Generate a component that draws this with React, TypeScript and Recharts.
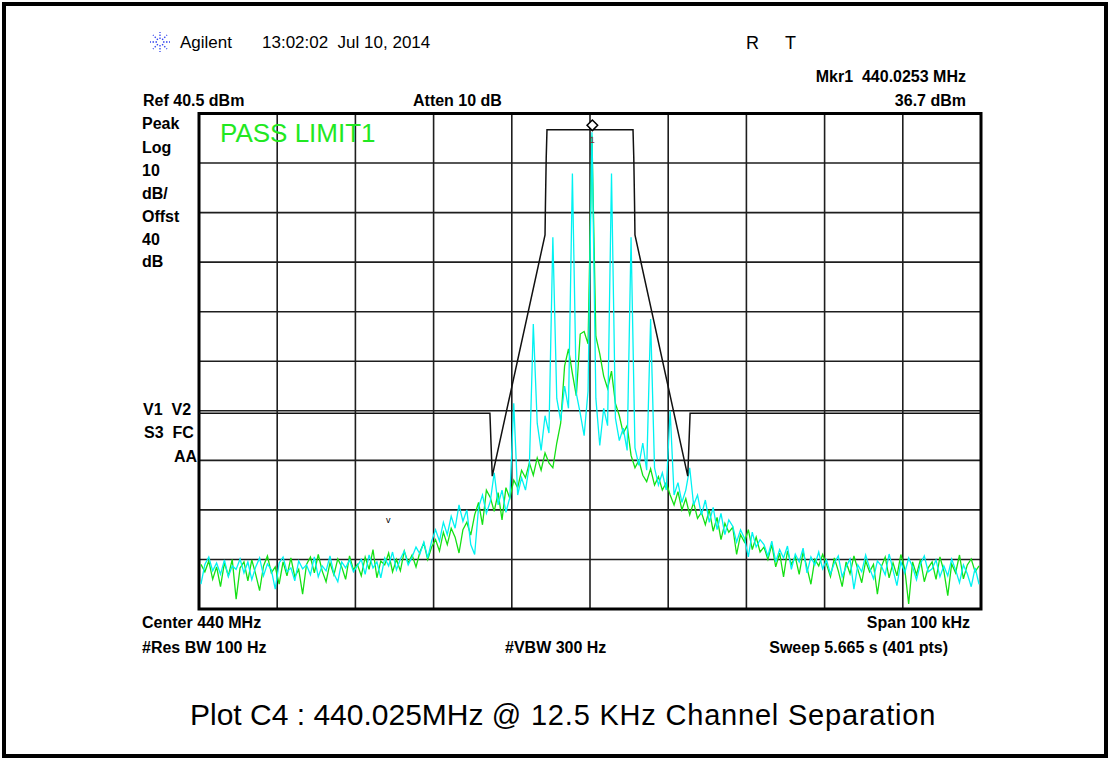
import { LineChart, Line, XAxis, YAxis, ReferenceLine, ReferenceArea, ReferenceDot } from "recharts";

// sweep: 200 points, 0.5 kHz apart, offsets from centre in kHz
const FREQ_KHZ = Array.from({ length: 200 }, (_, i) => -49.75 + i * 0.5);

// trace A (green), dBm
const GREEN_DBM = [
  -50.5, -52.0, -49.8, -53.5, -51.0, -55.0, -50.2, -52.8, -49.5, -57.5,
  -51.2, -50.0, -53.8, -49.6, -52.5, -55.8, -50.8, -48.8, -52.2, -51.0,
  -54.5, -50.0, -52.8, -49.2, -53.0, -51.5, -56.5, -50.5, -49.0, -52.2,
  -48.5, -51.8, -54.0, -50.2, -52.6, -49.4, -51.0, -53.5, -48.8, -51.6,
  -50.5, -52.8, -49.0, -51.5, -47.5, -53.2, -49.8, -50.6, -48.2, -52.0,
  -49.5, -51.8, -47.8, -50.2, -48.6, -51.0, -48.0, -46.2, -49.5, -47.0,
  -45.5, -47.8, -44.0, -46.5, -43.2, -45.0, -48.2, -43.5, -42.0, -44.6,
  -40.5, -38.0, -42.5, -35.5, -37.0, -39.8, -36.0, -41.5, -35.0, -37.2,
  -33.5, -35.0, -31.5, -33.0, -30.0, -32.5, -29.0, -31.5, -28.0, -30.0,
  -31.0, -26.0, -22.0, -10.5, -7.0, -12.0, -16.5, -4.0, -3.5, -6.0,
  36.0, -4.5, -8.0, -12.5, -15.0, -11.5, -18.0, -20.5, -24.0, -22.5,
  -28.5, -31.0, -29.5, -32.5, -33.8, -31.2, -34.5, -32.8, -35.5, -34.0,
  -36.5, -38.5, -35.8, -39.5, -37.2, -40.5, -38.0, -41.2, -40.0, -42.5,
  -39.5, -43.8, -41.0, -45.5, -42.2, -44.0, -43.0, -48.5, -44.5, -46.0,
  -43.5, -47.5, -45.0, -48.0, -47.0, -49.5, -46.5, -51.0, -48.2, -53.0,
  -47.8, -50.5, -49.0, -52.5, -48.0, -51.2, -54.5, -49.5, -50.8, -48.5,
  -50.5, -53.0, -49.2, -51.8, -55.0, -50.0, -52.4, -48.8, -51.5, -54.2,
  -49.8, -52.0, -50.5, -56.5, -51.0, -49.0, -53.2, -50.2, -52.8, -48.5,
  -51.4, -58.5, -50.0, -52.6, -49.5, -54.0, -51.2, -50.0, -53.5, -49.0,
  -51.8, -56.8, -50.4, -52.2, -48.6, -53.4, -50.6, -49.4, -52.0, -50.8,
];

// trace B (cyan), dBm
const CYAN_DBM = [
  -54.5, -50.5, -49.0, -51.8, -50.2, -52.5, -49.6, -53.0, -50.8, -51.5,
  -49.4, -52.2, -50.0, -53.6, -51.0, -49.2, -52.8, -50.4, -51.6, -55.5,
  -50.2, -49.0, -52.0, -51.2, -53.8, -49.8, -51.4, -50.6, -52.6, -49.0,
  -53.0, -50.8, -51.8, -48.8, -52.4, -54.0, -50.0, -51.2, -49.6, -52.0,
  -50.8, -49.5, -52.5, -48.6, -51.2, -50.0, -53.2, -49.2, -50.8, -48.0,
  -51.6, -49.4, -47.8, -50.6, -49.0, -47.0, -48.4, -46.0, -49.2, -45.8,
  -43.5, -45.8, -42.0, -44.5, -40.8, -43.2, -38.5, -41.8, -39.5, -46.5,
  -48.5, -39.0, -36.5, -40.2, -37.8, -32.0, -38.5, -35.5, -40.0, -37.0,
  -18.0, -36.5, -33.0, -35.5, -30.5, -2.0, -22.0, -27.5, -20.5, -24.0,
  15.5, -17.0, -21.5, -14.5, -19.0, 28.4, -16.0, -20.0, -24.5, -15.5,
  36.7, -17.0, -26.5, -19.0, -22.5, 28.4, -21.0, -25.5, -23.0, -27.5,
  15.5, -27.0, -30.5, -26.0, -31.5, -1.0, -31.0, -34.5, -32.0, -35.5,
  -19.5, -36.5, -34.0, -38.0, -35.5, -31.0, -38.5, -36.5, -40.5, -37.5,
  -42.0, -39.0, -43.5, -40.2, -44.5, -41.5, -42.8, -46.0, -43.5, -45.2,
  -49.0, -44.0, -47.0, -45.5, -46.5, -48.8, -45.8, -50.0, -47.5, -49.2,
  -46.8, -51.5, -48.4, -50.0, -47.2, -52.2, -49.0, -50.6, -48.0, -51.4,
  -49.6, -52.4, -50.2, -48.8, -53.0, -51.0, -49.4, -55.5, -50.6, -52.0,
  -48.6, -51.2, -53.4, -49.8, -50.8, -52.6, -48.4, -51.6, -54.8, -50.0,
  -52.2, -49.2, -51.0, -53.6, -50.4, -48.8, -52.0, -51.4, -49.6, -53.0,
  -50.8, -52.8, -49.4, -51.6, -54.2, -50.6, -52.4, -55.0, -51.2, -54.5,
];

// limit line mask
const LIMIT_KHZ = [-50, -12.8, -12.5, -5.75, -5.7, -5.6, -5.5, 5.5, 5.6, 5.7, 5.75, 12.5, 12.8, 50];
const LIMIT_DBM = [-20, -20, -32.7, 16, 22, 31.5, 37.2, 37.2, 31.5, 22, 16, -32.7, -20, -20];

// graticule: 10 kHz/div, 10 dB/div from ref 40.5 dBm
const X_GRID = [-40, -30, -20, -10, 0, 10, 20, 30, 40];
const Y_GRID = [-49.5, -39.5, -29.5, -19.5, -9.5, 0.5, 10.5, 20.5, 30.5];
const X_DOMAIN = [-50, 50];
const Y_DOMAIN = [-59.5, 40.5];

const MARKER_KHZ = 0.3;
const MARKER_DBM = 36.7;

const traceData = FREQ_KHZ.map((f, i) => ({ f, g: GREEN_DBM[i], c: CYAN_DBM[i] }));
const limitData = LIMIT_KHZ.map((f, i) => ({ f, v: LIMIT_DBM[i] }));

const FONT = '"Liberation Sans", Arial, sans-serif';
const PLOT_MARGIN = { top: 113.5, right: 129, bottom: 151, left: 199 };

function Txt({ x, y, size = 16, bold = true, right = false, color = "#000", children }: any) {
  const style: any = {
    position: "absolute",
    top: y - size * 0.49,
    fontSize: size,
    lineHeight: `${size}px`,
    fontWeight: bold ? 700 : 400,
    fontFamily: FONT,
    color,
    whiteSpace: "pre",
  };
  if (right) style.right = 1110 - x;
  else style.left = x;
  return <div style={style}>{children}</div>;
}

function DiamondMarker(props: any) {
  const { cx, cy } = props;
  const dy = cy - 7;
  const s = 5.3;
  return (
    <g>
      <polygon
        points={`${cx},${dy - s} ${cx + s},${dy} ${cx},${dy + s} ${cx - s},${dy}`}
        fill="#fff"
        stroke="#000"
        strokeWidth={1.5}
      />
      <text x={cx} y={cy + 11} fontSize={9} fontFamily={FONT} textAnchor="middle" fill="#803030">
        1
      </text>
    </g>
  );
}

function AgilentLogo() {
  const rays = [0, 45, 90, 135, 180, 225, 270, 315];
  return (
    <svg width={24} height={24} style={{ position: "absolute", left: 148, top: 30 }}>
      {rays.map((a) => {
        const r = (a * Math.PI) / 180;
        return (
          <line
            key={a}
            x1={12 + Math.cos(r) * 3}
            y1={12 + Math.sin(r) * 3}
            x2={12 + Math.cos(r) * 10}
            y2={12 + Math.sin(r) * 10}
            stroke="#3344ee"
            strokeWidth={1.3}
            strokeDasharray="1.5 1.5"
          />
        );
      })}
    </svg>
  );
}

// graticule drawn in its own chart underneath so the traces sit on top of it
function Graticule() {
  return (
    <LineChart width={1110} height={760} data={traceData} margin={PLOT_MARGIN}>
      <XAxis type="number" dataKey="f" domain={X_DOMAIN} hide allowDataOverflow />
      <YAxis type="number" domain={Y_DOMAIN} hide allowDataOverflow />
      {X_GRID.map((v) => (
        <ReferenceLine key={`x${v}`} x={v} stroke="#1e1e1e" strokeWidth={1.6} />
      ))}
      {Y_GRID.map((v) => (
        <ReferenceLine key={`y${v}`} y={v} stroke="#1e1e1e" strokeWidth={1.6} />
      ))}
    </LineChart>
  );
}

export default function App() {
  return (
    <div
      style={{
        position: "absolute",
        left: 0,
        top: 0,
        width: 1110,
        height: 760,
        background: "#fff",
        overflow: "hidden",
        fontFamily: FONT,
      }}
    >
      <div
        style={{
          position: "absolute",
          left: 2,
          top: 2,
          width: 1098,
          height: 748,
          border: "4px solid #000",
        }}
      />

      <AgilentLogo />
      <Txt x={180} y={42} size={17} bold={false}>Agilent</Txt>
      <Txt x={262} y={42} size={17} bold={false}>{"13:02:02  Jul 10, 2014"}</Txt>
      <Txt x={746} y={43} size={18} bold={false}>R</Txt>
      <Txt x={785} y={43} size={18} bold={false}>T</Txt>
      <Txt x={966} y={77} right>{"Mkr1  440.0253 MHz"}</Txt>
      <Txt x={966} y={101} right>36.7 dBm</Txt>
      <Txt x={143} y={101}>Ref 40.5 dBm</Txt>
      <Txt x={413} y={101}>Atten 10 dB</Txt>

      <Txt x={142} y={124}>Peak</Txt>
      <Txt x={142} y={148}>Log</Txt>
      <Txt x={142} y={171}>10</Txt>
      <Txt x={142} y={194}>dB/</Txt>
      <Txt x={142} y={217}>Offst</Txt>
      <Txt x={142} y={240}>40</Txt>
      <Txt x={142} y={262}>dB</Txt>

      <Txt x={143} y={410}>{"V1  V2"}</Txt>
      <Txt x={144} y={433}>{"S3  FC"}</Txt>
      <Txt x={197} y={457} right>AA</Txt>

      <Txt x={142} y={623}>Center 440 MHz</Txt>
      <Txt x={970} y={623} right>Span 100 kHz</Txt>
      <Txt x={142} y={648}>#Res BW 100 Hz</Txt>
      <Txt x={505} y={648}>#VBW 300 Hz</Txt>
      <Txt x={948} y={648} right>Sweep 5.665 s (401 pts)</Txt>

      <div style={{ position: "absolute", left: 0, top: 0 }}>
        <Graticule />
      </div>

      <div style={{ position: "absolute", left: 386, top: 515, fontSize: 9, fontFamily: FONT }}>v</div>

      <div style={{ position: "absolute", left: 0, top: 0 }}>
        <LineChart width={1110} height={760} data={traceData} margin={PLOT_MARGIN}>
          <XAxis type="number" dataKey="f" domain={X_DOMAIN} hide allowDataOverflow />
          <YAxis type="number" domain={Y_DOMAIN} hide allowDataOverflow />
          <Line
            type="linear"
            dataKey="g"
            stroke="#14e014"
            strokeWidth={1.3}
            dot={false}
            isAnimationActive={false}
          />
          <Line
            type="linear"
            dataKey="c"
            stroke="#00f2f2"
            strokeWidth={1.3}
            dot={false}
            isAnimationActive={false}
          />
          <Line
            data={limitData}
            type="linear"
            dataKey="v"
            stroke="#111"
            strokeWidth={1.5}
            dot={false}
            isAnimationActive={false}
          />
          <ReferenceArea
            x1={X_DOMAIN[0]}
            x2={X_DOMAIN[1]}
            y1={Y_DOMAIN[0]}
            y2={Y_DOMAIN[1]}
            fill="none"
            stroke="#000"
            strokeWidth={3}
            ifOverflow="visible"
          />
          <ReferenceDot x={MARKER_KHZ} y={MARKER_DBM} shape={DiamondMarker} ifOverflow="visible" />
        </LineChart>
      </div>

      <Txt x={220} y={133} size={26} bold={false} color="#22e822">PASS LIMIT1</Txt>

      <div
        style={{
          position: "absolute",
          left: 190,
          top: 698,
          fontFamily: FONT,
          whiteSpace: "pre",
          lineHeight: "34px",
          color: "#000",
        }}
      >
        <span style={{ fontSize: 30 }}>Plot C4 : 440.025MHz </span>
        <span style={{ fontSize: 29, letterSpacing: 0.8 }}>@ 12.5 KHz Channel Separation</span>
      </div>
    </div>
  );
}
